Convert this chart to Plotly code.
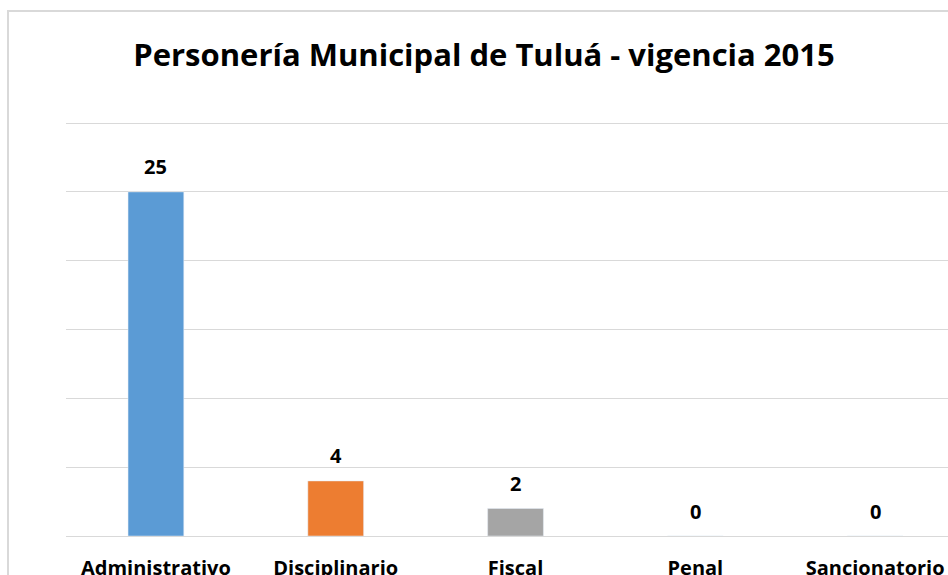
import plotly.graph_objects as go

categories = ["Administrativo", "Disciplinario", "Fiscal", "Penal", "Sancionatorio"]
values = [25, 4, 2, 0, 0]
colors = ["#5B9BD5", "#ED7D31", "#A5A5A5", "#FFC000", "#4472C4"]
title = "Personería Municipal de Tuluá - vigencia 2015"

W, H = 948, 575
ml, mr, mt, mb = 66, 0, 122, 39

fig = go.Figure()
fig.add_trace(go.Bar(
    x=categories, y=values, marker_color=colors, width=0.31,
    hoverinfo="x+y", showlegend=False,
))
for c, v in zip(categories, values):
    fig.add_annotation(x=c, y=v, text=f"<b>{v}</b>", showarrow=False,
                       yanchor="middle", yshift=25,
                       font=dict(family="Open Sans", size=20, color="#000000"))

fig.update_layout(
    width=W, height=H,
    margin=dict(l=ml, r=mr, t=mt, b=mb, autoexpand=False),
    paper_bgcolor="white", plot_bgcolor="white",
    title=dict(text=f"<b>{title}</b>", x=484 / W, xanchor="center",
               y=1 - 55 / H, yanchor="middle",
               font=dict(family="Open Sans", size=31, color="#000000")),
    xaxis=dict(range=[-0.5, 4.405], showline=False, ticks="", automargin=False,
               tickfont=dict(family="Open Sans", size=20, color="#000000"),
               ticklabelstandoff=18, tickprefix="<b>", ticksuffix="</b>",
               showgrid=False),
    yaxis=dict(range=[0, 30.08], dtick=5, showticklabels=False, showgrid=True,
               automargin=False,
               gridcolor="#d9d9d9", gridwidth=1, zeroline=True,
               zerolinecolor="#d9d9d9", zerolinewidth=1, showline=False),
    bargap=0.69,
)
# chart border (cropped at right/bottom)
fig.add_shape(type="rect", xref="paper", yref="paper",
              x0=-(ml - 8) / (W - ml - mr), x1=1.2,
              y0=-0.2, y1=1 + (mt - 11) / (H - mt - mb),
              line=dict(color="#d9d9d9", width=2), fillcolor="rgba(0,0,0,0)",
              layer="below")

fig.write_html("out.html", config={"displayModeBar": False},
               post_script="document.body.style.margin='0px';document.body.style.overflow='hidden';")
